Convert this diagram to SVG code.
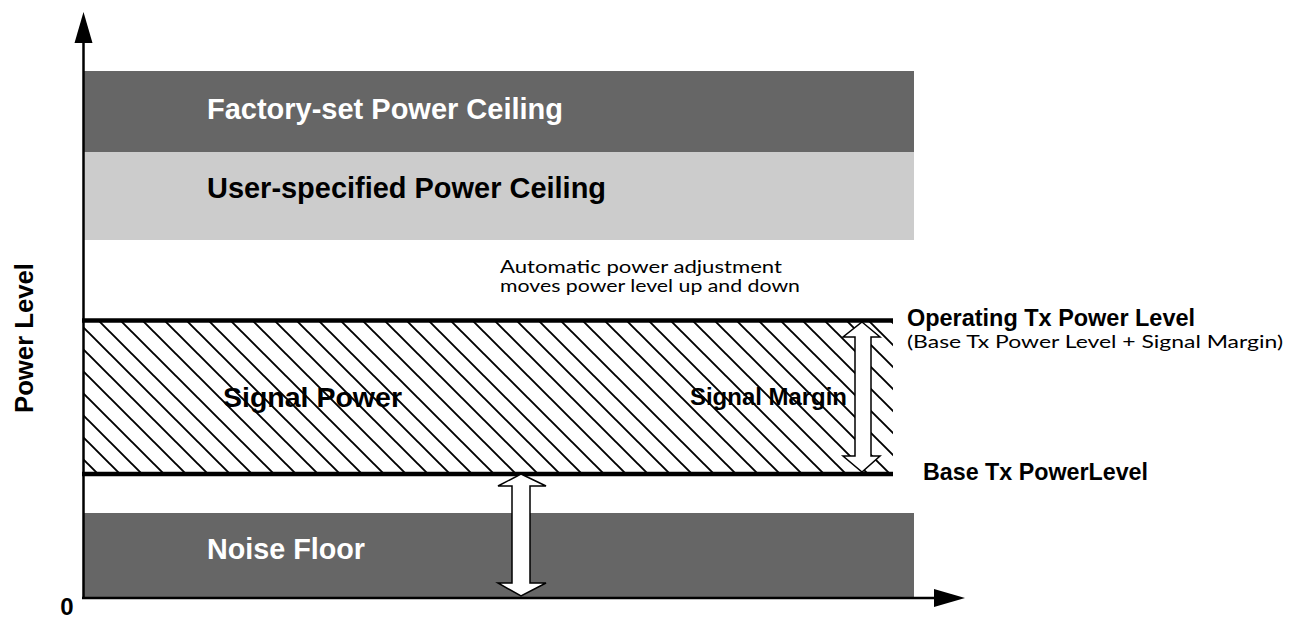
<svg xmlns="http://www.w3.org/2000/svg" width="1292" height="621" viewBox="0 0 1292 621">
  <style>
    .bold { font-family: "Liberation Sans", Arial, Helvetica, sans-serif; font-weight: bold; }
    .note { font-family: Lato, "Open Sans", sans-serif; font-size: 17px; fill: #000; }
    .dark { fill: #666666; }
    .light { fill: #cccccc; }
    .rule { stroke: #000; stroke-width: 4.5; }
    .axis { stroke: #000; stroke-width: 2.5; fill: none; }
    .dbl { fill: #fff; stroke: #000; stroke-width: 1.5; stroke-linejoin: miter; }
  </style>
  <defs>
    <pattern id="hatch" patternUnits="userSpaceOnUse" x="0" y="2" width="22" height="22">
      <path d="M-5.5,-5.5 L27.5,27.5 M-5.5,16.5 L5.5,27.5 M16.5,-5.5 L27.5,5.5" stroke="#000" stroke-width="1.9" fill="none"/>
    </pattern>
  </defs>
  <rect width="1292" height="621" fill="#fff"/>

  <g id="factory-ceiling">
    <rect class="dark" x="84" y="71" width="830" height="81"/>
    <text class="bold" x="207" y="119" font-size="29" fill="#fff" textLength="356" lengthAdjust="spacingAndGlyphs">Factory-set Power Ceiling</text>
  </g>

  <g id="user-ceiling">
    <rect class="light" x="84" y="152" width="830" height="88"/>
    <text class="bold" x="207" y="198" font-size="29" fill="#000" textLength="399" lengthAdjust="spacingAndGlyphs">User-specified Power Ceiling</text>
  </g>

  <g id="auto-note">
    <text class="note" x="500" y="273" textLength="282" lengthAdjust="spacingAndGlyphs">Automatic power adjustment</text>
    <text class="note" x="500" y="292" textLength="300" lengthAdjust="spacingAndGlyphs">moves power level up and down</text>
  </g>

  <g id="signal-power">
    <rect x="83" y="321" width="810" height="153" fill="url(#hatch)"/>
    <line class="rule" x1="82" y1="320.5" x2="893" y2="320.5"/>
    <line class="rule" x1="82" y1="474" x2="893" y2="474"/>
    <text class="bold" x="223" y="407" font-size="28" fill="#000" textLength="179" lengthAdjust="spacingAndGlyphs">Signal Power</text>
    <text class="bold" x="690" y="405" font-size="24" fill="#000" textLength="157" lengthAdjust="spacingAndGlyphs">Signal Margin</text>
  </g>

  <g id="noise-floor">
    <rect class="dark" x="84" y="513" width="830" height="84"/>
    <text class="bold" x="207" y="559" font-size="29" fill="#fff" textLength="158" lengthAdjust="spacingAndGlyphs">Noise Floor</text>
  </g>

  <g id="operating-level">
    <text class="bold" x="907" y="326" font-size="24" fill="#000" textLength="288" lengthAdjust="spacingAndGlyphs">Operating Tx Power Level</text>
    <text class="note" x="907" y="348" font-size="18" textLength="376" lengthAdjust="spacingAndGlyphs">(Base Tx Power Level + Signal Margin)</text>
  </g>

  <g id="base-level">
    <text class="bold" x="923" y="480" font-size="24" fill="#000" textLength="225" lengthAdjust="spacingAndGlyphs">Base Tx PowerLevel</text>
  </g>

  <g id="axes">
    <line class="axis" x1="83.5" y1="40" x2="83.5" y2="598"/>
    <polygon points="83.5,12 74.5,43 92.5,43" fill="#000"/>
    <line class="axis" x1="82" y1="598" x2="936" y2="598"/>
    <polygon points="965,598 934,589 934,607" fill="#000"/>
    <text class="bold" x="0" y="0" font-size="26" fill="#000" text-anchor="middle" transform="translate(33 338) rotate(-90)" textLength="150" lengthAdjust="spacingAndGlyphs">Power Level</text>
    <text class="bold" x="67" y="615" font-size="24" fill="#000" text-anchor="middle">0</text>
  </g>

  <g id="connectors">
    <!-- signal margin span -->
    <polygon class="dbl" points="862,322 880,337 871,337 871,456 880,456 862,472 843,456 855,456 855,337 843,337"/>
    <!-- gap between base level and noise floor -->
    <polygon class="dbl" points="521,474 546,486 530,486 530,583 546,583 521,596 498,583 512,583 512,486 498,486"/>
  </g>
</svg>
